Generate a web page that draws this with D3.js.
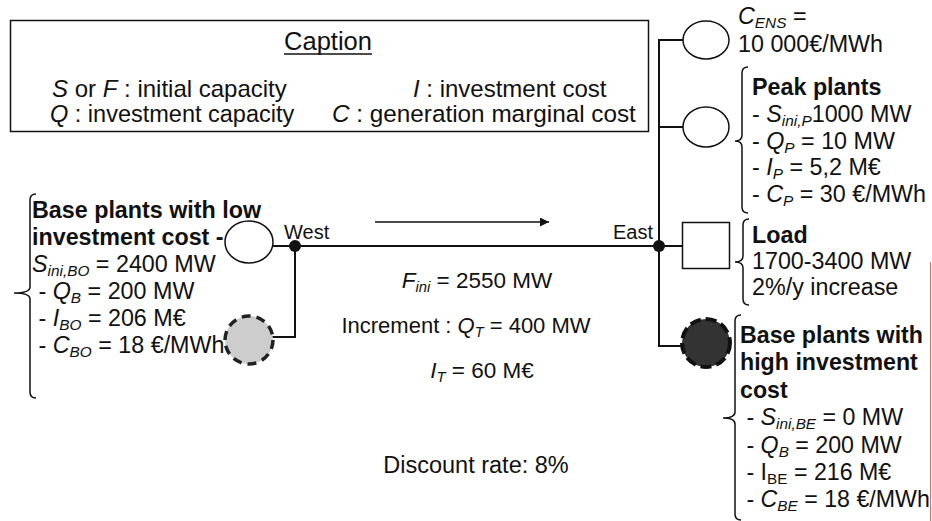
<!DOCTYPE html>
<html lang="en">
<head>
<meta charset="UTF-8">
<title>Two-node network</title>
<script src="https://d3js.org/d3.v7.min.js"></script>
<style>
    body { margin: 0; background: #fff; }
    svg { display: block; }
    text { font-family: "Liberation Sans", Arial, Helvetica, sans-serif; fill: #111; white-space: pre; }
</style>
</head>
<body>
<svg id="chart" width="932" height="521"></svg>
<script>
    // text content ( ^x^ italic, _x_ italic subscript, ~x~ upright subscript, ** bold line )
    const captionTitle = "Caption";
    const captionLeft = ["^S^ or ^F^ : initial capacity", "^Q^ : investment capacity"];
    const captionRight = ["^I^ : investment cost", "^C^ : generation marginal cost"];
    const baseLowLines = ["**Base plants with low", "**investment cost -", "^S^_ini,BO_ = 2400 MW",
        " - ^Q^_B_ = 200 MW", " - ^I^_BO_ = 206 M€", " - ^C^_BO_ = 18 €/MWh"];
    const ensLines = ["^C^_ENS_ =", "10 000€/MWh"];
    const peakLines = ["**Peak plants", "- ^S^_ini,P_1000 MW", "- ^Q^_P_ = 10 MW", "- ^I^_P_ = 5,2 M€", "- ^C^_P_ = 30 €/MWh"];
    const loadLines = ["**Load", "1700-3400 MW", "2%/y increase"];
    const baseHighLines = ["**Base plants with", "**high investment", "**cost", " - ^S^_ini,BE_ = 0 MW",
        " - ^Q^_B_ = 200 MW", " - I~BE~ = 216 M€", " - ^C^_BE_ = 18 €/MWh"];
    const lineLines = ["^F^_ini_ = 2550 MW", "Increment : ^Q^_T_ = 400 MW", "^I^_T_ = 60 M€"];
    const discountLine = "Discount rate: 8%";
    const nodeNames = ["West", "East"];

    const svg = d3.select("#chart");

    const addRich = (sel, str, x, y, anchor = "start", size = 23.3) => {
        const bold = str.startsWith("**");
        if (bold) str = str.slice(2);
        const t = sel.append("text")
            .attr("x", x).attr("y", y)
            .attr("text-anchor", anchor)
            .attr("font-size", size)
            .attr("font-weight", bold ? "bold" : "normal");
        let shift = 0;
        str.split(/(\^[^^]*\^|_[^_]*_|~[^~]*~)/).filter(s => s.length).forEach(p => {
            const ts = t.append("tspan");
            let dy;
            if (p[0] === "^") {
                ts.text(p.slice(1, -1)).attr("font-style", "italic");
                dy = -shift; shift = 0;
            } else if (p[0] === "_" || p[0] === "~") {
                ts.text(p.slice(1, -1)).attr("font-size", size * 0.66)
                    .attr("font-style", p[0] === "_" ? "italic" : "normal");
                dy = 4 - shift; shift = 4;
            } else {
                ts.text(p);
                dy = -shift; shift = 0;
            }
            if (dy) ts.attr("dy", dy);
        });
        return t;
    };

    const addBlock = (lines, x, y0, step, size) =>
        lines.forEach((l, i) => addRich(svg, l, x, y0 + i * step, "start", size));

    // curly brace: vertical at x, from y0 to y1, tip pointing left at (tx, ty)
    const brace = (x, y0, y1, tx, ty) => {
        const r = 6;
        const p = d3.path();
        p.moveTo(x + r, y0);
        p.quadraticCurveTo(x, y0, x, y0 + r);
        p.lineTo(x, ty - r);
        p.quadraticCurveTo(x, ty, tx, ty);
        p.quadraticCurveTo(x, ty, x, ty + r);
        p.lineTo(x, y1 - r);
        p.quadraticCurveTo(x, y1, x + r, y1);
        svg.append("path").attr("d", p.toString())
            .attr("fill", "none").attr("stroke", "#111").attr("stroke-width", 1.5);
    };

    // caption box
    svg.append("rect").attr("x", 10.5).attr("y", 20.5).attr("width", 638).attr("height", 111)
        .attr("fill", "none").attr("stroke", "#111").attr("stroke-width", 1.5);
    const cap = addRich(svg, captionTitle, 328, 50, "middle", 25.5);
    const cb = cap.node().getBBox();
    svg.append("line").attr("x1", cb.x).attr("x2", cb.x + cb.width).attr("y1", 54).attr("y2", 54)
        .attr("stroke", "#111").attr("stroke-width", 1.3);
    addRich(svg, captionLeft[0], 52, 97, "start", 24);
    addRich(svg, captionLeft[1], 50, 122, "start", 23.5);
    addRich(svg, captionRight[0], 413, 97, "start", 24);
    addRich(svg, captionRight[1], 332, 122, "start", 24.3);

    // network lines
    const wire = (pts) => svg.append("path").attr("d", d3.line()(pts))
        .attr("fill", "none").attr("stroke", "#111").attr("stroke-width", 2);
    const west = [295, 246], east = [659, 246];
    wire([[265, 246], [706, 246]]);
    wire([west, [295, 337], [270, 337]]);
    wire([[683, 40], [659, 40], [659, 346], [682, 346]]);
    wire([[659, 127], [683, 127]]);

    // arrow
    svg.append("defs").append("marker").attr("id", "arr")
        .attr("viewBox", "0 0 10 10").attr("refX", 10).attr("refY", 5)
        .attr("markerWidth", 9).attr("markerHeight", 9).attr("markerUnits", "userSpaceOnUse")
        .attr("orient", "auto")
        .append("path").attr("d", "M0,0L10,5L0,10Z").attr("fill", "#111");
    svg.append("line").attr("x1", 375).attr("x2", 549).attr("y1", 222).attr("y2", 222)
        .attr("stroke", "#111").attr("stroke-width", 1.5).attr("marker-end", "url(#arr)");

    // generators and load
    svg.append("ellipse").attr("cx", 249).attr("cy", 242).attr("rx", 24).attr("ry", 21)
        .attr("fill", "#fff").attr("stroke", "#111").attr("stroke-width", 1.5);
    svg.append("circle").attr("cx", 249).attr("cy", 340).attr("r", 24)
        .attr("fill", "#cdcdcd").attr("stroke", "#222").attr("stroke-width", 3.5)
        .attr("stroke-dasharray", "9,6");
    svg.append("ellipse").attr("cx", 706).attr("cy", 40).attr("rx", 23).attr("ry", 19)
        .attr("fill", "#fff").attr("stroke", "#111").attr("stroke-width", 1.5);
    svg.append("ellipse").attr("cx", 706).attr("cy", 127).attr("rx", 23).attr("ry", 20)
        .attr("fill", "#fff").attr("stroke", "#111").attr("stroke-width", 1.5);
    svg.append("rect").attr("x", 682.5).attr("y", 222.5).attr("width", 47).attr("height", 46)
        .attr("fill", "#fff").attr("stroke", "#111").attr("stroke-width", 1.5);
    svg.append("circle").attr("cx", 706).attr("cy", 343).attr("r", 24)
        .attr("fill", "#333").attr("stroke", "#111").attr("stroke-width", 4)
        .attr("stroke-dasharray", "11,5");

    // nodes
    svg.selectAll("circle.node").data([west, east]).join("circle").attr("class", "node")
        .attr("cx", d => d[0]).attr("cy", d => d[1]).attr("r", 6).attr("fill", "#111");
    addRich(svg, nodeNames[0], 284, 239, "start", 20);
    addRich(svg, nodeNames[1], 653, 239, "end", 20);

    // line info
    addRich(svg, lineLines[0], 477, 288, "middle", 22.5);
    addRich(svg, lineLines[1], 466, 333, "middle", 22);
    addRich(svg, lineLines[2], 482, 378, "middle", 22.5);
    addRich(svg, discountLine, 476, 473, "middle", 23.5);

    // text blocks
    brace(30, 194, 398, 14, 293);
    addBlock(baseLowLines, 32, 218, 27, 23.3);
    addBlock(ensLines, 738, 24, 28, 23.3);
    brace(742, 67, 213, 735, 141);
    addBlock(peakLines, 752, 95, 26.8, 23.3);
    brace(743, 219, 305, 735, 262);
    addBlock(loadLines, 752, 243, 26, 23.3);
    brace(735, 315, 520, 723, 418);
    addBlock(baseHighLines, 740, 343, 27.4, 23.2);

    // thin red edge at right
    svg.append("line").attr("x1", 930.5).attr("x2", 930.5).attr("y1", 262).attr("y2", 521)
        .attr("stroke", "#e07070").attr("stroke-width", 1);
</script>
</body>
</html>
